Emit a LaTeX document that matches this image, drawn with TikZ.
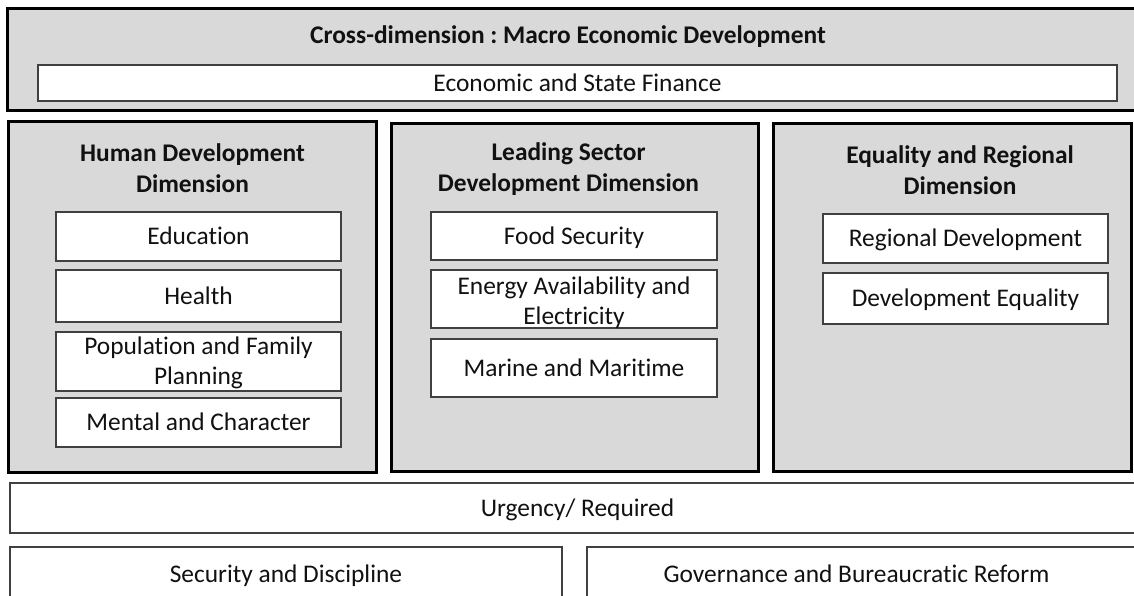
\documentclass[tikz,border=0pt]{standalone}
\usepackage{fontspec}
\setmainfont{Carlito}[Ligatures={NoCommon}]
\frenchspacing
\newcommand\nolig{\kern0pt}
\definecolor{boxgray}{HTML}{D9D9D9}
\definecolor{thinline}{HTML}{404040}
\definecolor{txt}{HTML}{111111}
\begin{document}
\begin{tikzpicture}[x=1pt,y=-1pt,
  every node/.style={text=txt},
  bigbox/.style={draw=black, line width=3pt, fill=boxgray, inner sep=0pt},
  subbox/.style={draw=thinline, line width=1.2pt, fill=white, inner sep=0pt,
    font=\fontsize{25.4pt}{30pt}\selectfont, text height=17pt, text depth=1pt},
  twoline/.style={align=center, inner sep=0pt, font=\fontsize{25.4pt}{30pt}\selectfont},
  header/.style={align=center, inner sep=0pt, font=\fontsize{25.4pt}{31pt}\selectfont\bfseries},
  plain/.style={inner sep=0pt, font=\fontsize{25.4pt}{30pt}\selectfont, text height=17pt, text depth=1pt}
]
\useasboundingbox (0,0) rectangle (1134,595);
\fill[white] (0,0) rectangle (1134,595);
\clip (0,0) rectangle (1134,595);

% Cross dimension
\node[bigbox, minimum width=1138, minimum height=102] (cross) at (576,59) {};
\node[header] (crosst) at (568,37) {Cross-dimension : Macro Economic Development};
\node[subbox, minimum width=1079, minimum height=36] (econ) at (577.5,83) {Economic and State Finance};

% Three dimensions
\node[bigbox, minimum width=368, minimum height=351] (human) at (192,296.5) {};
\node[bigbox, minimum width=367, minimum height=348] (lead) at (574.5,297) {};
\node[bigbox, minimum width=358, minimum height=348] (equal) at (952,297) {};

\node[header] (humant) at (192.5,168) {Human Development\\Dimension};
\node[header] (leadt) at (568.5,169) {Leading Sector\\Development Dimension};
\node[header] (equalt) at (960,170) {Equality and Regional\\Dimension};

% Human sub boxes
\node[subbox, minimum width=285, minimum height=49] (edu) at (198.5,236.5) {Educat\nolig ion};
\node[subbox, minimum width=285, minimum height=52] (health) at (198.5,296) {Health};
\node[subbox, minimum width=285, minimum height=59] (pop) at (198.5,361.5) {};
\node[twoline] (popt) at ([yshift=-1.5pt]pop.center) {Populat\nolig ion and Family\\Planning};
\node[subbox, minimum width=285, minimum height=49] (mental) at (198.5,422.5) {Mental and Character};

% Leading sub boxes
\node[subbox, minimum width=286, minimum height=48] (food) at (574,236) {Food Security};
\node[subbox, minimum width=286, minimum height=58] (energy) at (574,299) {};
\node[twoline] (energyt) at ([yshift=-4pt]energy.center) {Energy Availability and\\Electricity};
\node[subbox, minimum width=286, minimum height=58] (marine) at (574,368) {Marine and Marit\nolig ime};

% Equality sub boxes
\node[subbox, minimum width=285, minimum height=49] (regional) at (965.5,238.5) {Regional Development};
\node[subbox, minimum width=285, minimum height=51] (deveq) at (965.5,298.5) {Development Equality};

% Bottom rows
\node[subbox, minimum width=1135, minimum height=50] (urgency) at (577.5,508) {Urgency/ Required};
\node[subbox, minimum width=552, minimum height=80] (security) at (286,587) {};
\node[plain] (securityt) at (286,574) {Security and Discipline};
\node[subbox, minimum width=560, minimum height=80] (gov) at (867,587) {};
\node[plain] (govt) at (856.5,574) {Governance and Bureaucrat\nolig ic Reform};
\end{tikzpicture}
\end{document}
